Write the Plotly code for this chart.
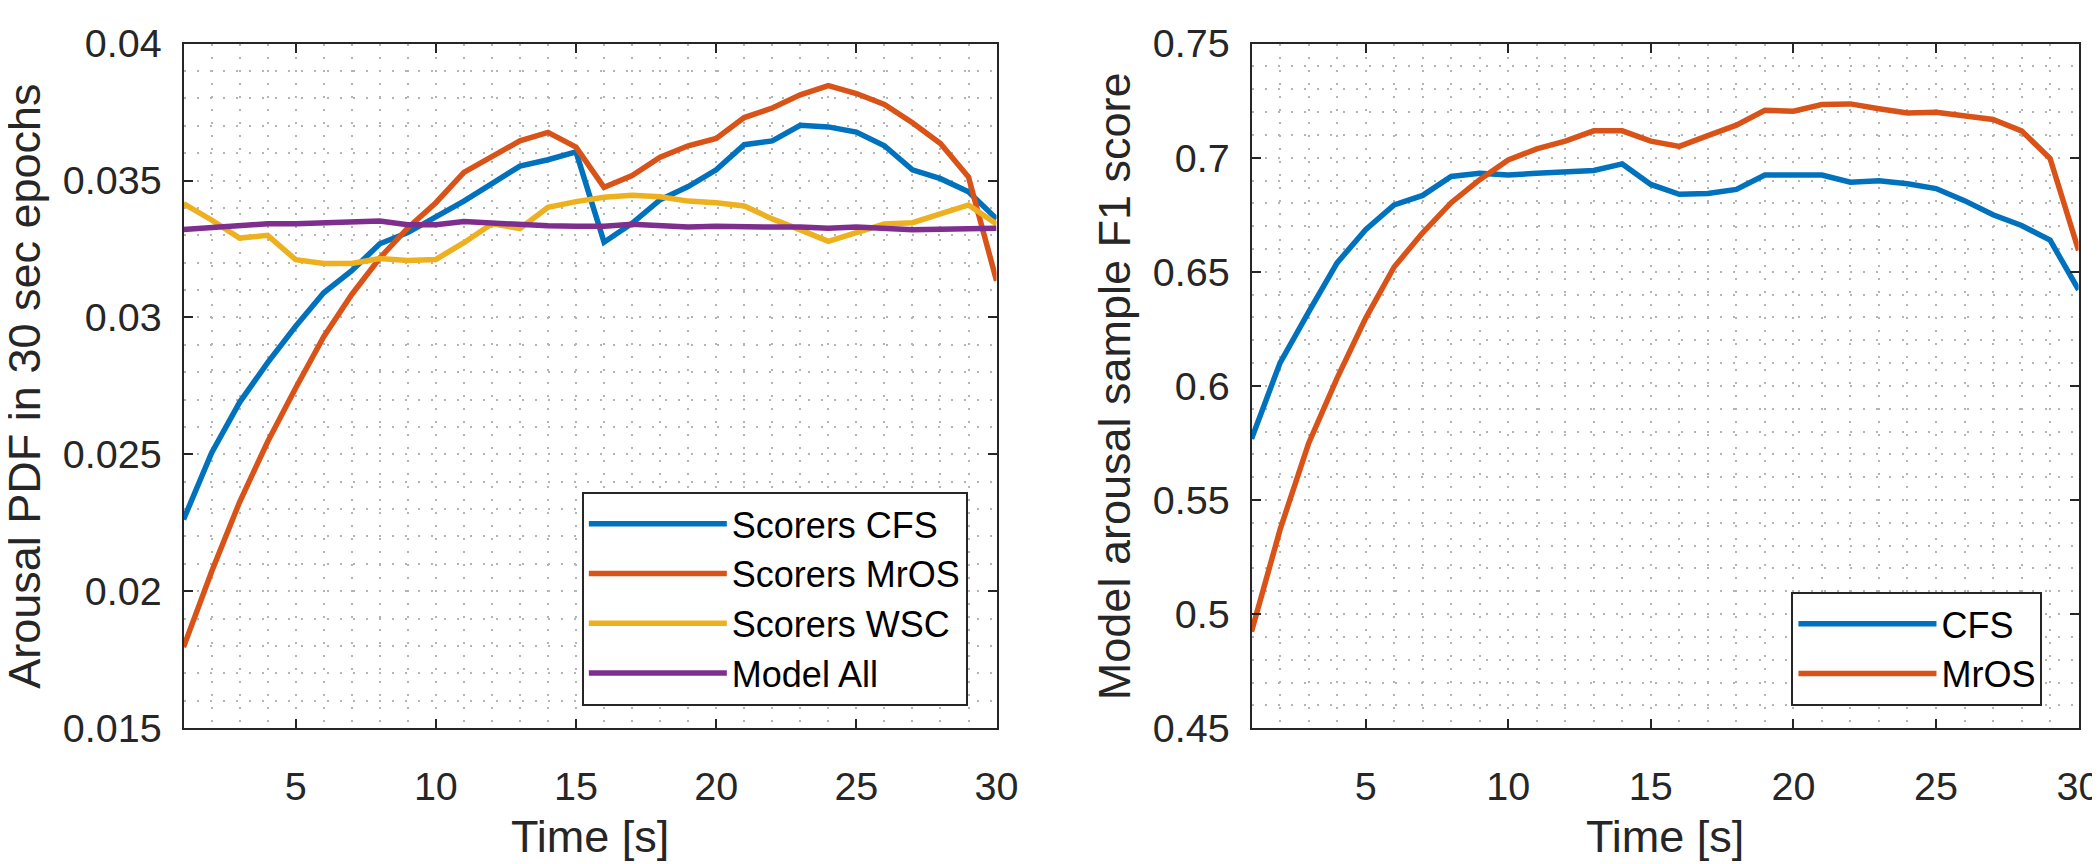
import plotly.graph_objects as go

# ---------------- data ----------------
time_s = list(range(1, 31))

scorers_cfs = [0.02262, 0.02505, 0.02690, 0.02835, 0.02968, 0.03090, 0.03171, 0.03269, 0.03310, 0.03367,
               0.03425, 0.03489, 0.03553, 0.03576, 0.03605, 0.03275, 0.03344, 0.03430, 0.03478, 0.03539,
               0.03631, 0.03645, 0.03702, 0.03696, 0.03677, 0.03627, 0.03539, 0.03507, 0.03459, 0.03360]
scorers_mros = [0.01796, 0.02071, 0.02326, 0.02546, 0.02742, 0.02930, 0.03084, 0.03217, 0.03327, 0.03419,
                0.03530, 0.03588, 0.03645, 0.03676, 0.03622, 0.03475, 0.03518, 0.03585, 0.03627, 0.03654,
                0.03730, 0.03765, 0.03813, 0.03847, 0.03818, 0.03778, 0.03711, 0.03635, 0.03513, 0.03134]
scorers_wsc = [0.03416, 0.03356, 0.03290, 0.03300, 0.03211, 0.03197, 0.03197, 0.03215, 0.03208, 0.03212,
               0.03273, 0.03342, 0.03325, 0.03402, 0.03423, 0.03439, 0.03446, 0.03441, 0.03425, 0.03419,
               0.03407, 0.03360, 0.03320, 0.03278, 0.03310, 0.03341, 0.03346, 0.03377, 0.03411, 0.03341]
model_all = [0.03321, 0.03327, 0.03335, 0.03342, 0.03342, 0.03344, 0.03350, 0.03352, 0.03339, 0.03339,
             0.03350, 0.03344, 0.03342, 0.03335, 0.03333, 0.03333, 0.03340, 0.03333, 0.03330, 0.03333,
             0.03330, 0.03330, 0.03330, 0.03326, 0.03330, 0.03326, 0.03320, 0.03322, 0.03324, 0.03326]

f1_cfs = [0.5768, 0.6101, 0.6323, 0.6539, 0.6685, 0.6793, 0.6835, 0.6918, 0.6932, 0.6924,
          0.6932, 0.6939, 0.6944, 0.6973, 0.6883, 0.6840, 0.6843, 0.6861, 0.6924, 0.6924,
          0.6924, 0.6893, 0.6899, 0.6886, 0.6865, 0.6812, 0.6750, 0.6703, 0.6639, 0.6421]
f1_mros = [0.4923, 0.5370, 0.5748, 0.6034, 0.6296, 0.6521, 0.6671, 0.6803, 0.6904, 0.6990,
           0.7039, 0.7073, 0.7118, 0.7118, 0.7073, 0.7050, 0.7097, 0.7143, 0.7208, 0.7204,
           0.7233, 0.7236, 0.7215, 0.7196, 0.7199, 0.7182, 0.7168, 0.7118, 0.6997, 0.6594]

x_ticks = [5, 10, 15, 20, 25, 30]
left_y_ticks = [0.015, 0.02, 0.025, 0.03, 0.035, 0.04]
left_y_labels = ["0.015", "0.02", "0.025", "0.03", "0.035", "0.04"]
right_y_ticks = [0.45, 0.5, 0.55, 0.6, 0.65, 0.7, 0.75]
right_y_labels = ["0.45", "0.5", "0.55", "0.6", "0.65", "0.7", "0.75"]

left_names = ["Scorers CFS", "Scorers MrOS", "Scorers WSC", "Model All"]
right_names = ["CFS", "MrOS"]
colors = ["#0072BD", "#D95319", "#EDB120", "#7E2F8E"]

# ---------------- layout helpers ----------------
W, H = 2100, 864
FONT = "Liberation Sans, Arial, Helvetica, sans-serif"
AX = "#262626"
GRID = "#b4b4b4"
DASH = "2px,11px"


def fx(px):
    return px / W


def fy(py):
    return 1 - py / H


fig = go.Figure()

for name, vals, col in zip(left_names, [scorers_cfs, scorers_mros, scorers_wsc, model_all], colors):
    fig.add_trace(go.Scatter(x=time_s, y=vals, name=name, mode="lines",
                             line=dict(color=col, width=5.5), xaxis="x", yaxis="y",
                             legend="legend"))

for name, vals, col in zip(right_names, [f1_cfs, f1_mros], colors):
    fig.add_trace(go.Scatter(x=time_s, y=vals, name=name, mode="lines",
                             line=dict(color=col, width=5.5), xaxis="x2", yaxis="y2",
                             legend="legend2"))


def minor_grid(dtick):
    return dict(dtick=dtick, tick0=0, showgrid=True, gridcolor=GRID,
                griddash=DASH, gridwidth=2)


def axis_style(**kw):
    d = dict(showline=True, linecolor=AX, linewidth=2, mirror="ticks", ticks="inside",
             ticklen=9, tickwidth=2, tickcolor=AX, showgrid=True, gridcolor=GRID,
             griddash=DASH, gridwidth=2, zeroline=False, ticklabeloverflow="allow",
             tickfont=dict(family=FONT, size=39.5, color=AX))
    d.update(kw)
    return d


dom_y = [fy(735.6), fy(14.4)]

legend_common = dict(bordercolor=AX, borderwidth=2, bgcolor="white", itemwidth=138,
                     font=dict(family=FONT, size=36, color="black"), tracegroupgap=0,
                     xanchor="right", yanchor="bottom")

fig.update_layout(
    width=W, height=H, margin=dict(l=0, r=0, t=0, b=0),
    paper_bgcolor="white", plot_bgcolor="white",
    font=dict(family=FONT, color=AX),
    xaxis=axis_style(domain=[fx(177.4), fx(999)], range=[1, 30], tickvals=x_ticks,
                     ticklabelstandoff=22, anchor="y", minor=minor_grid(1)),
    yaxis=axis_style(domain=dom_y, range=[0.015, 0.04], tickvals=left_y_ticks,
                     ticktext=left_y_labels, ticklabelstandoff=12, anchor="x",
                     minor=minor_grid(0.001)),
    xaxis2=axis_style(domain=[fx(1256.7), fx(2092.5)], range=[1, 30], tickvals=x_ticks,
                      ticklabelstandoff=22, anchor="y2", minor=minor_grid(1)),
    yaxis2=axis_style(domain=dom_y, range=[0.45, 0.75], tickvals=right_y_ticks,
                      ticktext=right_y_labels, ticklabelstandoff=12, anchor="x2",
                      minor=minor_grid(0.01)),
    legend=dict(x=fx(970), y=fy(712), **legend_common),
    legend2=dict(x=fx(2056), y=fy(712), **legend_common),
    showlegend=True,
)

title_font = dict(family=FONT, size=45, color=AX)
fig.add_annotation(text="Time [s]", xref="paper", yref="paper", x=fx(588), y=fy(850),
                   xanchor="center", yanchor="middle", showarrow=False, font=title_font)
fig.add_annotation(text="Time [s]", xref="paper", yref="paper", x=fx(1674.6), y=fy(850),
                   xanchor="center", yanchor="middle", showarrow=False, font=title_font)
fig.add_annotation(text="Arousal PDF in 30 sec epochs", xref="paper", yref="paper",
                   x=fx(17), y=fy(375), xanchor="center", yanchor="middle",
                   textangle=-90, showarrow=False, font=title_font)
fig.add_annotation(text="Model arousal sample F1 score", xref="paper", yref="paper",
                   x=fx(1119), y=fy(375), xanchor="center", yanchor="middle",
                   textangle=-90, showarrow=False, font=title_font)

fig.write_html("out.html")
